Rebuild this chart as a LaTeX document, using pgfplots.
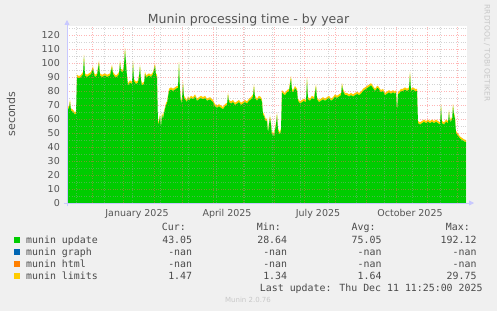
\documentclass[border=0pt]{standalone}
\usepackage{fontspec}
\setmainfont{DejaVu Sans}
\newfontfamily\mono{DejaVu Sans Mono}
\usepackage{pgfplots}
\usepackage{pgfplotstable}
\pgfplotsset{compat=1.18}
\usetikzlibrary{arrows.meta}
\definecolor{updgreen}{HTML}{00CC00}
\definecolor{graphblue}{HTML}{0066B3}
\definecolor{htmlorange}{HTML}{FF8000}
\definecolor{limyellow}{HTML}{FFCC00}
\definecolor{bgcol}{HTML}{F0F0F0}
\definecolor{txt}{HTML}{555555}
\definecolor{legtxt}{HTML}{4A4A4A}
\definecolor{faint}{HTML}{C8C8C8}
\definecolor{axiscol}{HTML}{C8C8FF}
\definecolor{gridred}{HTML}{FF5F5F}
\definecolor{gridgray}{HTML}{A0A0A0}

\pgfplotstableread{
day upd lim
0 66 1.6
2 68 1.6
3 72 1.7
4 66 1.6
6 65 1.6
8 63 1.6
9 64 1.6
10 90 1.7
12 89 1.6
14 90 1.6
16 92 1.6
17 104 1.8
18 91 1.6
20 90 1.6
22 91 1.6
24 92 1.6
26 96 1.7
27 92 1.6
28 90 1.6
30 91 1.6
32 100 1.7
33 91 1.6
35 90 1.6
38 91 1.6
40 90 1.6
43 91 1.6
45 97 1.7
46 92 1.6
48 90 1.6
50 90 1.6
52 92 1.6
53 100 1.7
54 94 1.6
55 94 1.6
56 93 1.6
57 98 1.7
58 109 1.8
59 100 1.7
60 90 1.6
61 84 1.6
63 86 1.6
65 85 1.6
66 100 1.7
67 87 1.6
69 85 1.6
71 86 1.6
72 90 1.6
73 97 1.7
74 87 1.6
75 84 1.6
77 85 1.6
78 92 1.6
79 90 1.6
80 90 1.6
82 91 1.6
84 90 1.6
86 92 1.6
88 98 1.7
89 91 1.6
90 90 1.6
91 56 1.6
92 58 1.6
93 62 1.6
94 54 1.6
95 63 1.6
96 60 1.6
97 64 1.6
99 70 1.6
100 71 1.6
102 80 1.6
104 81 1.6
106 80 1.6
108 81 1.6
110 82 1.6
111 82 1.6
112 99 1.7
113 80 1.6
114 71 1.6
115 74 1.6
116 85 1.7
117 75 1.6
118 74 1.6
120 72 1.6
121 75 1.6
122 73 1.6
124 75 1.6
126 74 1.6
128 76 1.6
130 73 1.6
132 74 1.6
134 75 1.6
136 74 1.6
138 75 1.6
140 73 1.6
143 74 1.6
146 72 1.6
148 69 1.6
150 68 1.6
152 69 1.6
154 68 1.6
156 67 1.6
158 69 1.6
160 70 1.6
161 77 1.7
162 72 1.6
164 71 1.6
166 72 1.6
168 70 1.6
170 71 1.6
172 72 1.6
174 70 1.6
176 71 1.6
178 72 1.6
180 71 1.6
182 73 1.6
184 74 1.6
186 76 1.6
187 83 1.7
188 75 1.6
190 73 1.6
192 75 1.6
194 74 1.6
195 72 1.6
196 63 1.6
197 62 1.6
199 58 1.6
200 59 1.6
201 50 1.6
202 56 1.6
203 61 1.6
204 56 1.6
205 48 1.6
206 50 1.6
207 47 1.6
208 52 1.6
209 56 1.6
210 63 1.6
211 52 1.6
212 50 1.6
213 49 1.6
214 52 1.6
215 79 1.7
216 78 1.6
218 77 1.6
220 79 1.6
222 80 1.6
224 89 1.7
225 80 1.6
226 79 1.6
228 82 1.6
230 80 1.6
231 73 1.6
233 71 1.6
235 72 1.6
237 73 1.6
239 72 1.6
240 88 1.7
241 74 1.6
243 73 1.6
245 75 1.6
247 74 1.6
249 83 1.7
250 74 1.6
252 72 1.6
254 73 1.6
256 74 1.6
258 73 1.6
260 74 1.6
262 75 1.6
264 73 1.6
266 74 1.6
268 76 1.6
270 75 1.6
272 76 1.6
274 77 1.6
275 84 1.7
276 80 1.6
278 77 1.6
280 77 1.6
282 76 1.6
284 77 1.6
286 76 1.6
288 77 1.6
290 78 1.6
292 77 1.6
294 78 1.6
296 80 1.6
298 81 1.6
300 82 1.6
302 83 1.6
304 84 1.6
306 82 1.6
308 80 1.6
310 82 1.6
311 82 1.6
312 81 1.6
314 79 1.6
316 80 1.6
318 77 1.6
320 78 1.6
322 79 1.6
324 78 1.6
326 79 1.6
328 78 1.6
329 79 1.6
330 65 1.6
331 78 1.6
332 78 1.6
334 80 1.6
336 80 1.6
338 81 1.6
340 80 1.6
342 81 1.6
343 92 1.7
344 80 1.6
346 81 1.6
348 80 1.6
350 80 1.6
351 57 1.6
353 56 1.6
355 57 1.6
357 58 1.6
359 57 1.6
361 58 1.6
363 57 1.6
365 58 1.6
367 57 1.6
369 58 1.6
371 57 1.6
373 56 1.6
374 69 1.7
375 57 1.6
377 56 1.6
379 58 1.6
381 57 1.6
382 65 1.6
383 57 1.6
384 60 1.6
385 58 1.6
386 69 1.7
387 63 1.6
388 60 1.6
389 50 1.5
390 49 1.5
391 48 1.5
393 46 1.5
395 45 1.5
397 44 1.5
399 43.5 1.47
}\datatable

\begin{document}
\begin{tikzpicture}[x=1pt,y=1pt]
\fill[bgcol] (0,0) rectangle (497,311);
\begin{axis}[
  at={(67pt,108pt)}, anchor=origin,
  scale only axis, width=400pt, height=177.1pt,
  xmin=0, xmax=400, ymin=0, ymax=126.5,
  axis background/.style={fill=white},
  axis line style={draw=none},
  axis on top,
  stack plots=y,
  /pgf/number format/assume math mode=true,
  ytick={0,10,...,120},
  minor ytick={5,15,...,125},
  xtick={25,56,87,115,146,176,207,237,268,299,329,360,390},
  xticklabels={},
  minor xtick={9,37,65,93,121,149,177,205,233,261,289,317,345,373},
  extra x ticks={70,160,251,343},
  extra x tick labels={January 2025,April 2025,July 2025,October 2025},
  extra x tick style={grid=none},
  grid=both,
  major grid style={draw=gridred, opacity=0.45, dash pattern=on 0.8pt off 1.6pt, line width=0.55pt},
  minor grid style={draw=gridgray, opacity=0.45, dash pattern=on 0.8pt off 1.6pt, line width=0.55pt},
  tick style={draw=none},
  yticklabel style={anchor=east, inner sep=0pt, xshift=-7pt, text=txt, font=\fontsize{9.5}{9.5}\selectfont},
  xticklabel style={anchor=base, inner sep=0pt, yshift=-13pt, text=txt, font=\fontsize{9.5}{9.5}\selectfont},
]
\addplot[fill=updgreen, draw=none] table[x=day, y=upd]{\datatable} \closedcycle;
\addplot[fill=limyellow, draw=none] table[x=day, y=lim]{\datatable} \closedcycle;
\end{axis}
\draw[axiscol, line width=0.8pt, -{Triangle[length=5pt,width=5pt]}] (64,108) -- (474,108);
\draw[axiscol, line width=0.8pt, -{Triangle[length=5pt,width=5pt]}] (67,105) -- (67,291);
% title
\node[anchor=base, inner sep=0pt, text=txt, font=\fontsize{12.5}{12.5}\selectfont] at (248.5,287) {Munin processing time - by year};
\node[rotate=90, inner sep=0pt, text=txt, font=\fontsize{11}{11}\selectfont] at (11,197) {seconds};
\node[rotate=-90, inner sep=0pt, text=faint, font=\fontsize{7.5}{7.5}\selectfont] at (487,258) {RRDTOOL / TOBI OETIKER};
% legend
\begin{scope}[every node/.style={inner sep=0pt, text=legtxt, font=\mono\fontsize{9.9}{9.9}\selectfont}]
\node[anchor=base east] at (186,80.4) {Cur:};
\node[anchor=base east] at (281,80.4) {Min:};
\node[anchor=base east] at (375.7,80.4) {Avg:};
\node[anchor=base east] at (470,80.4) {Max:};
\node[anchor=base west] at (14,67.7) {\textcolor{updgreen}{\rule{6pt}{6pt}}};
\node[anchor=base west] at (14,55.8) {\textcolor{graphblue}{\rule{6pt}{6pt}}};
\node[anchor=base west] at (14,43.9) {\textcolor{htmlorange}{\rule{6pt}{6pt}}};
\node[anchor=base west] at (14,32.0) {\textcolor{limyellow}{\rule{6pt}{6pt}}};
\node[anchor=base west] at (26,67.7) {munin update};
\node[anchor=base west] at (26,55.8) {munin graph};
\node[anchor=base west] at (26,43.9) {munin html};
\node[anchor=base west] at (26,32.0) {munin limits};
\node[anchor=base east] at (192.3,67.7) {43.05};
\node[anchor=base east] at (287.3,67.7) {28.64};
\node[anchor=base east] at (381.7,67.7) {75.05};
\node[anchor=base east] at (476.7,67.7) {192.12};
\node[anchor=base east] at (192.3,55.8) {-nan};
\node[anchor=base east] at (287.3,55.8) {-nan};
\node[anchor=base east] at (381.7,55.8) {-nan};
\node[anchor=base east] at (476.7,55.8) {-nan};
\node[anchor=base east] at (192.3,43.9) {-nan};
\node[anchor=base east] at (287.3,43.9) {-nan};
\node[anchor=base east] at (381.7,43.9) {-nan};
\node[anchor=base east] at (476.7,43.9) {-nan};
\node[anchor=base east] at (192.3,32.0) {1.47};
\node[anchor=base east] at (287.3,32.0) {1.34};
\node[anchor=base east] at (381.7,32.0) {1.64};
\node[anchor=base east] at (476.7,32.0) {29.75};
\node[anchor=base east] at (482.7,20.0) {Last update: Thu Dec 11 11:25:00 2025};
\end{scope}
\node[anchor=base, inner sep=0pt, text=faint, font=\fontsize{7}{7}\selectfont] at (248,8.5) {Munin 2.0.76};
\end{tikzpicture}
\end{document}
